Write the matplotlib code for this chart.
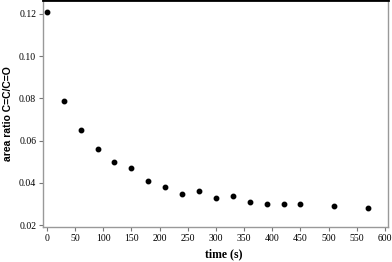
import matplotlib
matplotlib.use("Agg")
import matplotlib.pyplot as plt

time_s = [0, 30, 60, 90, 120, 150, 180, 210, 240, 270, 300, 330, 360, 390, 420, 450, 510, 570]
area_ratio = [0.121, 0.079, 0.065, 0.056, 0.050, 0.047, 0.041, 0.038, 0.035, 0.036,
              0.033, 0.034, 0.031, 0.030, 0.030, 0.030, 0.029, 0.028]
x_ticks = [0, 50, 100, 150, 200, 250, 300, 350, 400, 450, 500, 550, 600]
y_ticks = [0.02, 0.04, 0.06, 0.08, 0.10, 0.12]

fig = plt.figure(figsize=(3.92, 2.62), dpi=100)
ax = fig.add_axes([0.11, 0.134, 0.879, 0.866])
ax.plot(time_s, area_ratio, 'o', color='black', markersize=3.2)
ax.set_xlim(-6.6, 604.8)
ax.set_ylim(0.0192, 0.1266)
ax.set_xticks(x_ticks)
ax.set_yticks(y_ticks)
ax.set_xticklabels([str(v) for v in x_ticks], family='Liberation Serif', fontsize=7)
ax.set_yticklabels([f"{v:.2f}" for v in y_ticks], family='Liberation Serif', fontsize=7)
for s in ['left', 'bottom', 'right']:
    ax.spines[s].set_color('#999999')
    ax.spines[s].set_linewidth(1.0)
ax.spines['top'].set_color('black')
ax.spines['top'].set_linewidth(2)
ax.tick_params(direction='out', length=3, width=0.8, color='#777777', pad=2)
ax.set_xlabel('time (s)', family='Liberation Serif', fontweight='bold', fontsize=8.5)
ax.xaxis.set_label_coords(0.525, -0.093)
ax.set_ylabel('area ratio C=C/C=O', family='Liberation Sans', fontweight='bold', fontsize=7.5, labelpad=4)
fig.savefig('out.png', dpi=100)
